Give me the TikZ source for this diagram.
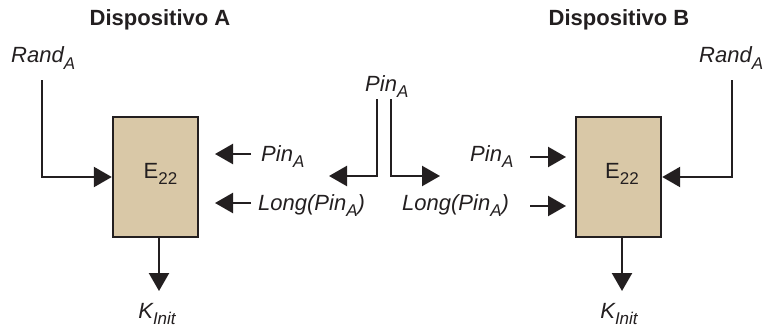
\documentclass[tikz,border=0pt]{standalone}
\usepackage{fontspec}
\setmainfont{Liberation Sans}
\usetikzlibrary{arrows.meta}
\definecolor{ink}{HTML}{231F20}
\definecolor{boxtan}{RGB}{217,200,167}
\newcommand\lo[1]{\raisebox{-0.28em}{\fontsize{17}{17}\selectfont #1}}
\tikzset{
 arr/.style={line width=2.4pt, draw=ink, -{Triangle[length=18pt,width=20pt]}},
 devbox/.style={draw=ink, line width=2.4pt, fill=boxtan, minimum width=85pt, minimum height=120pt, inner sep=0pt},
 lab/.style={inner sep=0pt, text=ink, font=\fontsize{22}{26}\selectfont\itshape},
 etx/.style={inner sep=0pt, text=ink, font=\fontsize{22}{26}\selectfont},
 ttl/.style={inner sep=0pt, text=ink, font=\fontsize{22}{26}\selectfont\bfseries},
}
\begin{document}
\begin{tikzpicture}[x=1pt,y=-1pt]
\useasboundingbox (0,0) rectangle (765,329);
% titles
\node[ttl, anchor=base] (titleA) at (160,26) {Dispositivo A};
\node[ttl, anchor=base] (titleB) at (619,26) {Dispositivo B};
% boxes
\node[devbox] (boxA) at (155.5,177) {};
\node[devbox] (boxB) at (618.5,177) {};
\node[etx, anchor=base] (eA) at (160.5,178) {E\lo{22}};
\node[etx, anchor=base] (eB) at (622,178) {E\lo{22}};
% Rand labels and arrows
\node[lab, anchor=base west] (randA) at (11,63) {Rand\lo{A}};
\node[lab, anchor=base west] (randB) at (699,63) {Rand\lo{A}};
\coordinate (ra) at (42,80);
\coordinate (rb) at (732,80);
\draw[arr] (ra) |- (boxA.west);
\draw[arr] (rb) |- (boxB.east);
% K outputs
\node[lab, anchor=base] (kA) at (157,318) {K\lo{Init}};
\node[lab, anchor=base] (kB) at (619,318) {K\lo{Init}};
\coordinate (kaEnd) at (159,291);
\coordinate (kbEnd) at (622,291);
\draw[arr] (boxA.south -| kaEnd) -- (kaEnd);
\draw[arr] (boxB.south -| kbEnd) -- (kbEnd);
% middle split
\node[lab, anchor=base west] (pinM) at (365,91) {Pin\lo{A}};
\coordinate (mL) at (377,99);
\coordinate (mR) at (391,99);
\coordinate (mLend) at (329,176);
\coordinate (mRend) at (440,176);
\draw[arr] (mL) |- (mLend);
\draw[arr] (mR) |- (mRend);
% left inputs
\node[lab, anchor=base west] (pinL) at (261,161) {Pin\lo{A}};
\node[lab, anchor=base west] (longL) at (258,210) {Long(Pin\lo{A})};
\coordinate (pl1) at (251,154);
\coordinate (pl2) at (215,154);
\coordinate (ll1) at (251,203);
\coordinate (ll2) at (215,203);
\draw[arr] (pl1) -- (pl2);
\draw[arr] (ll1) -- (ll2);
% right inputs
\node[lab, anchor=base west] (pinR) at (470,161) {Pin\lo{A}};
\node[lab, anchor=base west] (longR) at (402,210) {Long(Pin\lo{A})};
\coordinate (pr1) at (530,157);
\coordinate (pr2) at (566,157);
\coordinate (lr1) at (530,206);
\coordinate (lr2) at (566,206);
\draw[arr] (pr1) -- (pr2);
\draw[arr] (lr1) -- (lr2);
\end{tikzpicture}
\end{document}
